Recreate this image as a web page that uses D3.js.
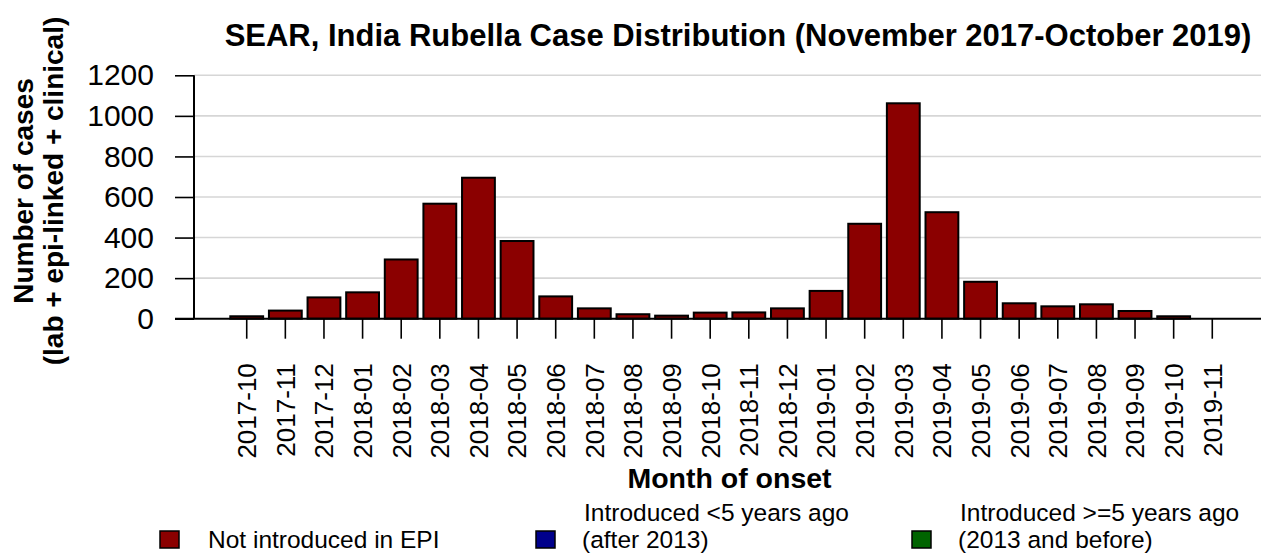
<!DOCTYPE html>
<html>
<head>
<meta charset="utf-8">
<script src="https://cdn.jsdelivr.net/npm/d3@7"></script>
<style>
  html, body { margin: 0; padding: 0; background: #fff; }
  svg { display: block; font-family: "Liberation Sans", Arial, sans-serif; }
</style>
</head>
<body>
<svg id="chart" width="1261" height="554"></svg>
<script>
// ---- Data ----
const months = ["2017-10","2017-11","2017-12","2018-01","2018-02","2018-03","2018-04","2018-05","2018-06",
  "2018-07","2018-08","2018-09","2018-10","2018-11","2018-12","2019-01","2019-02","2019-03","2019-04",
  "2019-05","2019-06","2019-07","2019-08","2019-09","2019-10","2019-11"];
const notIntroducedInEPI = [12,40,105,130,292,567,695,383,110,51,22,15,30,31,51,137,468,1062,525,182,76,61,71,38,12,0];
const yTicks = [0,200,400,600,800,1000,1200];
const legendLabels = [["Not introduced in EPI"], ["Introduced <5 years ago","(after 2013)"], ["Introduced >=5 years ago","(2013 and before)"]];
const legendColors = ["#8b0000","#00008b","#006400"];
const chartTitle = "SEAR, India Rubella Case Distribution (November 2017-October 2019)";
const yTitle = ["Number of cases","(lab + epi-linked + clinical)"];
const xTitle = "Month of onset";

// ---- Layout ----
const svg = d3.select("#chart");
const plotLeft = 194, plotRight = 1265, plotTop = 75.3, plotBottom = 318.7;

const x = d3.scaleBand().domain(months).range([plotLeft, plotRight]).paddingInner(0.15).paddingOuter(0.94);
const y = d3.scaleLinear().domain([0, 1200]).range([plotBottom, plotTop]);

// gridlines
svg.append("g").selectAll("line").data(yTicks.filter(d => d > 0)).join("line")
  .attr("x1", plotLeft).attr("x2", 1261)
  .attr("y1", d => y(d)).attr("y2", d => y(d))
  .attr("stroke", "#d6d6d6").attr("stroke-width", 1.6);

// bars
svg.append("g").selectAll("rect").data(months.map((m, i) => ({m, v: notIntroducedInEPI[i]})).filter(d => d.v > 0)).join("rect")
  .attr("x", d => x(d.m)).attr("width", x.bandwidth())
  .attr("y", d => y(d.v)).attr("height", d => y(0) - y(d.v))
  .attr("fill", legendColors[0]).attr("stroke", "#000").attr("stroke-width", 2);

// y axis
const yAxis = svg.append("g").attr("transform", `translate(${plotLeft},0)`)
  .call(d3.axisLeft(y).tickValues(yTicks).tickFormat(d3.format("d")).tickSize(19).tickPadding(21));
yAxis.select(".domain").remove();
yAxis.selectAll(".tick line").attr("stroke", "#000").attr("stroke-width", 1.6);
yAxis.selectAll(".tick text").attr("font-size", 30).attr("fill", "#000")
  .attr("font-family", "'Liberation Sans', Arial, sans-serif");
svg.append("line").attr("x1", plotLeft).attr("x2", plotLeft).attr("y1", plotTop).attr("y2", plotBottom)
  .attr("stroke", "#000").attr("stroke-width", 2);

// x axis
const xAxis = svg.append("g").attr("transform", `translate(0,${plotBottom})`)
  .call(d3.axisBottom(x).tickSize(20));
xAxis.select(".domain").remove();
xAxis.selectAll(".tick line").attr("stroke", "#000").attr("stroke-width", 1.6);
xAxis.selectAll(".tick text")
  .attr("transform", "rotate(-90)")
  .attr("x", -44.5).attr("y", 0).attr("dy", "0.36em")
  .attr("text-anchor", "end")
  .attr("font-size", 26).attr("fill", "#000")
  .attr("font-family", "'Liberation Sans', Arial, sans-serif");
svg.append("line").attr("x1", 175).attr("x2", 1261).attr("y1", plotBottom).attr("y2", plotBottom)
  .attr("stroke", "#000").attr("stroke-width", 2);

// title
svg.append("text").attr("x", 738).attr("y", 46).attr("text-anchor", "middle")
  .attr("font-size", 31).attr("font-weight", "bold").text(chartTitle);

// y title
const yt = svg.append("text").attr("transform", "translate(0,191) rotate(-90)")
  .attr("text-anchor", "middle").attr("font-size", 28).attr("font-weight", "bold");
yt.append("tspan").attr("x", 0).attr("y", 33).text(yTitle[0]);
yt.append("tspan").attr("x", 0).attr("y", 63).text(yTitle[1]);

// x title
svg.append("text").attr("x", (plotLeft + plotRight) / 2).attr("y", 488).attr("text-anchor", "middle")
  .attr("font-size", 28.5).attr("font-weight", "bold").text(xTitle);

// legend
const lg = svg.append("g").selectAll("g").data(legendLabels).join("g")
  .attr("transform", (d, i) => `translate(${160 + i * 376},0)`);
lg.append("rect").attr("x", 0).attr("y", 531).attr("width", 19).attr("height", 17)
  .attr("fill", (d, i) => legendColors[i]).attr("stroke", "#000").attr("stroke-width", 1.5);
lg.each(function(d) {
  const t = d3.select(this).append("text").attr("font-size", 24.5).attr("fill", "#000");
  if (d.length === 1) {
    t.append("tspan").attr("x", 48).attr("y", 548).text(d[0]);
  } else {
    t.append("tspan").attr("x", 48).attr("y", 520.5).text(d[0]);
    t.append("tspan").attr("x", 46).attr("y", 548).text(d[1]);
  }
});
</script>
</body>
</html>
